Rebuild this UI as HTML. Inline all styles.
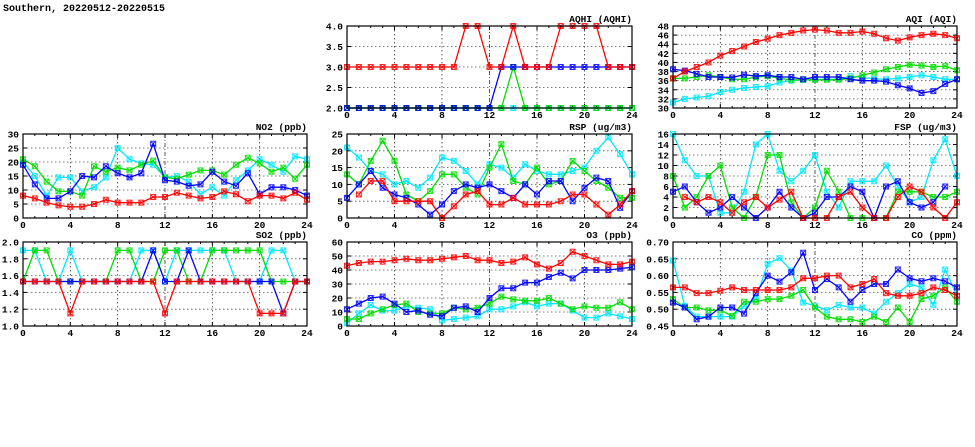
<!DOCTYPE html>
<html><head><meta charset="utf-8">
<style>
html,body{margin:0;padding:0;background:#fff;}
svg{display:block;}
text{font-family:"Liberation Mono",monospace;font-weight:bold;fill:#000;}
</style></head>
<body>
<svg id="chart" width="975" height="447" viewBox="0 0 975 447" xmlns="http://www.w3.org/2000/svg">
<text x="3" y="11" font-size="10">Southern, 20220512-20220515</text>
</svg>
<script>
const hours = [0,1,2,3,4,5,6,7,8,9,10,11,12,13,14,15,16,17,18,19,20,21,22,23,24];
const xTicks = [0,4,8,12,16,20,24];

const aqhiRed   = [3,3,3,3,3,3,3,3,3,3,4,4,3,3,4,3,3,3,4,4,4,4,3,3,3];
const aqhiGreen = [2,2,2,2,2,2,2,2,2,2,2,2,2,2,3,2,2,2,2,2,2,2,2,2,2];
const aqhiBlue  = [2,2,2,2,2,2,2,2,2,2,2,2,2,3,3,3,3,3,3,3,3,3,3,3,3];
const aqhiCyan  = [2,2,2,2,2,2,2,2,2,2,2,2,2,2,2,2,2,2,2,2,2,2,2,2,2];

const aqiRed   = [36.5,38,39,40,41.5,42.5,43.5,44.5,45.2,46,46.5,47,47.2,47,46.5,46.5,46.8,46.3,45.3,44.8,45.5,46,46.3,46,45.3];
const aqiGreen = [36.5,36.5,36.8,37.2,36.8,36.3,36.3,36.8,37,36.5,36.2,36.2,36.2,36.2,36.2,36.5,37.2,37.8,38.5,39,39.5,39.3,39,39.2,38.3];
const aqiBlue  = [38.5,38.2,37.5,36.8,36.8,36.7,37.3,37,37.2,36.8,36.8,36.3,36.8,36.8,36.8,36.3,36,36,35.8,35,34.3,33.3,33.7,35.3,36.3];
const aqiCyan  = [31.2,32,32.3,32.6,33.5,34,34.4,34.6,34.8,35.6,36,36.2,36.3,36.3,36.3,37,36.7,36.4,36.3,36.5,36.8,37.2,36.8,36.3,36.3];

const no2Red   = [8,7,5.5,4.5,4,4,5,6.5,5.5,5.5,5.5,7.5,7.5,9,8,7,7.5,9.5,8.5,6,8,8,7,9,6.5];
const no2Green = [21,18.5,13,9.5,9.5,8,18.5,16.5,18,17,19,20.5,14.5,14,15.5,17,17,15.5,19,21.5,19.5,16.5,18,14,19];
const no2Cyan  = [20,15,8,14.5,14.5,9.5,11,14.5,25,21,19.5,19,14.5,15,13,8.5,11,8,13.5,17,21,19,16.5,22,21];
const no2Blue  = [19,12,7,7,9.5,15,14.5,18.5,16,14.5,16,26.5,13.5,13,11.5,12,16.5,13,11.5,16,8.5,11,11,10,8];

const rspRed   = [null,7,11,11,5,5,5,5,0,3.5,7,8,4,4,6,4,4,4,5,7,7,4,1,4,8];
const rspGreen = [13,10,17,23,17,7,5,8,13,13,9,7,15,22,11,10,15,10,11,17,14,11,9,6,6];
const rspCyan  = [21,18,14,13,10,11,9,12,18,17,14,10,16,15,12,16,14,13,13,14,15,20,24,19,13];
const rspBlue  = [6,10,14,9,7,6,4,1,4,8,10,9,10,8,6,10,7,11,11,5,9,12,11,3,8];

const fspRed   = [null,4,3,4,3,1,3,4,2,3.5,5,0,0,0,4,5,2,0,0,4,6,5,2,0,3];
const fspGreen = [8,2,4,8,10,2,0,4,12,12,3,0,2,9,5,0,0,0,0,5,5,5,4,4,5];
const fspCyan  = [16,11,8,8,1,1,5,14,16,9,7,9,12,5,2,7,7,7,10,6,3,4,11,15,8];
const fspBlue  = [5,6,3,1,2,4,2,0,2,5,2,0,1,4,4,6,5,0,6,7,3,2,3,6,null];

const so2Red   = [1.53,1.53,1.53,1.53,1.15,1.53,1.53,1.53,1.53,1.53,1.53,1.53,1.15,1.53,1.53,1.53,1.53,1.53,1.53,1.53,1.15,1.15,1.15,1.53,1.53];
const so2Green = [1.53,1.9,1.9,1.53,1.53,1.53,1.53,1.53,1.9,1.9,1.53,1.53,1.9,1.9,1.53,1.53,1.9,1.9,1.9,1.9,1.9,1.53,1.53,1.53,1.53];
const so2Cyan  = [1.9,1.9,1.53,1.53,1.9,1.53,1.53,1.53,1.53,1.53,1.9,1.9,1.53,1.9,1.9,1.9,1.9,1.9,1.53,1.53,1.53,1.9,1.9,1.53,1.53];
const so2Blue  = [1.53,1.53,1.53,1.53,1.53,1.53,1.53,1.53,1.53,1.53,1.53,1.9,1.53,1.53,1.9,1.53,1.53,1.53,1.53,1.53,1.53,1.53,1.15,1.53,1.53];

const o3Red   = [43,45,46,46,47,48,47,47,48,49,50,47,47,45,46,49,44,41,45,53,50,47,44,44,46];
const o3Green = [5,5,9,12,15,16,10,9,9,13,12,13,16,21,19,18,18,20,16,12,14,13,13,17,12];
const o3Cyan  = [2,9,15,11,11,14,13,12,4,5,6,7,12,12,14,17,14,16,16,11,6,6,9,7,5];
const o3Blue  = [12,16,20,21,16,10,11,8,7,13,14,10,20,27,27,31,31,35,38,34,40,40,40,41,42];

const coRed   = [0.565,0.565,0.548,0.548,0.555,0.565,0.557,0.557,0.557,0.557,0.565,0.592,0.592,0.6,0.6,0.565,0.575,0.59,0.548,0.54,0.54,0.548,0.565,0.557,0.54];
const coGreen = [0.53,0.505,0.505,0.497,0.497,0.48,0.522,0.522,0.53,0.53,0.54,0.557,0.505,0.478,0.47,0.47,0.462,0.478,0.462,0.505,0.462,0.53,0.54,0.565,0.522];
const coCyan  = [0.645,0.51,0.478,0.478,0.478,0.478,0.51,0.53,0.635,0.652,0.615,0.52,0.51,0.497,0.513,0.505,0.505,0.487,0.522,0.548,0.575,0.565,0.513,0.618,0.54];
const coBlue  = [0.52,0.505,0.47,0.478,0.505,0.505,0.487,0.548,0.6,0.582,0.61,0.668,0.557,0.59,0.565,0.522,0.557,0.575,0.575,0.618,0.592,0.583,0.592,0.583,0.565];

const aqhiTicks = [2,2.5,3,3.5,4];
const aqiTicks = [30,32,34,36,38,40,42,44,46,48];
const no2Ticks = [0,5,10,15,20,25,30];
const rspTicks = [0,5,10,15,20,25];
const fspTicks = [0,2,4,6,8,10,12,14,16];
const so2Ticks = [1,1.2,1.4,1.6,1.8,2];
const o3Ticks = [0,10,20,30,40,50,60];
const coTicks = [0.45,0.5,0.55,0.6,0.65,0.7];

const COLORS = {cyan:'#00e8ff', green:'#00dd00', blue:'#0000ff', red:'#ff0000'};
const NS = 'http://www.w3.org/2000/svg';
const svg = document.getElementById('chart');
function mk(tag, attrs, parent){const e=document.createElementNS(NS,tag);for(const k in attrs)e.setAttribute(k,attrs[k]);(parent||svg).appendChild(e);return e;}

const panels = [
 {name:'aqhi', title:'AQHI (AQHI)', x0:347,x1:632,y0:26,y1:108, ticks:aqhiTicks, dec:1, series:{cyan:aqhiCyan,green:aqhiGreen,blue:aqhiBlue,red:aqhiRed}},
 {name:'aqi', title:'AQI (AQI)', x0:673,x1:957,y0:26,y1:108, ticks:aqiTicks, dec:0, series:{cyan:aqiCyan,green:aqiGreen,blue:aqiBlue,red:aqiRed}},
 {name:'no2', title:'NO2 (ppb)', x0:23,x1:307,y0:134,y1:218, ticks:no2Ticks, dec:0, series:{cyan:no2Cyan,green:no2Green,blue:no2Blue,red:no2Red}},
 {name:'rsp', title:'RSP (ug/m3)', x0:347,x1:632,y0:134,y1:218, ticks:rspTicks, dec:0, series:{cyan:rspCyan,green:rspGreen,blue:rspBlue,red:rspRed}},
 {name:'fsp', title:'FSP (ug/m3)', x0:673,x1:957,y0:134,y1:218, ticks:fspTicks, dec:0, series:{cyan:fspCyan,green:fspGreen,blue:fspBlue,red:fspRed}},
 {name:'so2', title:'SO2 (ppb)', x0:23,x1:307,y0:242,y1:326, ticks:so2Ticks, dec:1, series:{cyan:so2Cyan,green:so2Green,blue:so2Blue,red:so2Red}},
 {name:'o3', title:'O3 (ppb)', x0:347,x1:632,y0:242,y1:326, ticks:o3Ticks, dec:0, series:{cyan:o3Cyan,green:o3Green,blue:o3Blue,red:o3Red}},
 {name:'co', title:'CO (ppm)', x0:673,x1:957,y0:242,y1:326, ticks:coTicks, dec:2, series:{cyan:coCyan,green:coGreen,blue:coBlue,red:coRed}}
];

panels.forEach(p=>{
  const g = mk('g',{});
  
  
  const ymin=p.ticks[0], ymax=p.ticks[p.ticks.length-1];
  const X = v => p.x0 + (v-0)/(24-0)*(p.x1-p.x0);
  const Y = v => p.y1 - (v-ymin)/(ymax-ymin)*(p.y1-p.y0);
  p.ticks.forEach((t,i)=>{
    const y=Y(t);
    if(i>0 && i<p.ticks.length-1){
      const l=mk('line',{x1:p.x0,x2:p.x1,y1:y,y2:y,stroke:'#555','stroke-width':0.8,'stroke-dasharray':'1.5,2.5'},g);
      
      
    }
    mk('line',{x1:p.x0,x2:p.x0+4,y1:y,y2:y,stroke:'#000','stroke-width':1},g);
    mk('line',{x1:p.x1,x2:p.x1-4,y1:y,y2:y,stroke:'#000','stroke-width':1},g);
    const tx=mk('text',{x:p.x0-4,y:y+3.5,'text-anchor':'end','font-size':9.5},g);
    tx.textContent=t.toFixed(p.dec);
    
    
  });
  xTicks.forEach((t,i)=>{
    const x=X(t);
    if(i>0 && i<xTicks.length-1){
      const l=mk('line',{x1:x,x2:x,y1:p.y0,y2:p.y1,stroke:'#333','stroke-width':0.8,'stroke-dasharray':t===12?'4,2,1,2':'1.5,2.5'},g);
      
      
    }
    mk('line',{x1:x,x2:x,y1:p.y1,y2:p.y1-4,stroke:'#000','stroke-width':1},g);
    mk('line',{x1:x,x2:x,y1:p.y0,y2:p.y0+4,stroke:'#000','stroke-width':1},g);
    const tx=mk('text',{x:x,y:p.y1+10,'text-anchor':'middle','font-size':9.5},g);
    tx.textContent=t;
    
    
  });
  hours.forEach(h=>{ if(h%4){const x=X(h);
    mk('line',{x1:x,x2:x,y1:p.y1,y2:p.y1-2,stroke:'#000','stroke-width':1},g);
    mk('line',{x1:x,x2:x,y1:p.y0,y2:p.y0+2,stroke:'#000','stroke-width':1},g);}});
  ['cyan','green','blue','red'].forEach(c=>{
    const vals=p.series[c];
    const sg=mk('g',{},g);
    
    
    let d='', pen=false;
    vals.forEach((v,i)=>{
      if(v===null){pen=false;return;}
      d+=(pen?'L':'M')+X(hours[i]).toFixed(1)+','+Y(v).toFixed(1);
      pen=true;
    });
    mk('path',{d:d,fill:'none',stroke:COLORS[c],'stroke-width':1.3},sg);
    vals.forEach((v,i)=>{
      if(v===null)return;
      const x=X(hours[i]), y=Y(v), r=2.5;
      const m=mk('path',{d:`M${x-r},${y-r}L${x+r},${y+r}M${x-r},${y+r}L${x+r},${y-r}M${x-r},${y-r}h${2*r}v${2*r}h${-2*r}z`,fill:'none',stroke:COLORS[c],'stroke-width':1,'stroke-opacity':0.85},sg);
      
      
    });
  });
  const b=mk('rect',{x:p.x0,y:p.y0,width:p.x1-p.x0,height:p.y1-p.y0,fill:'none',stroke:'#000','stroke-width':1.2},g);
  
  
  const t=mk('text',{x:p.x1,y:p.y0-4,'text-anchor':'end','font-size':9.5},g);
  t.textContent=p.title;
  
  
});
</script>
</body></html>
